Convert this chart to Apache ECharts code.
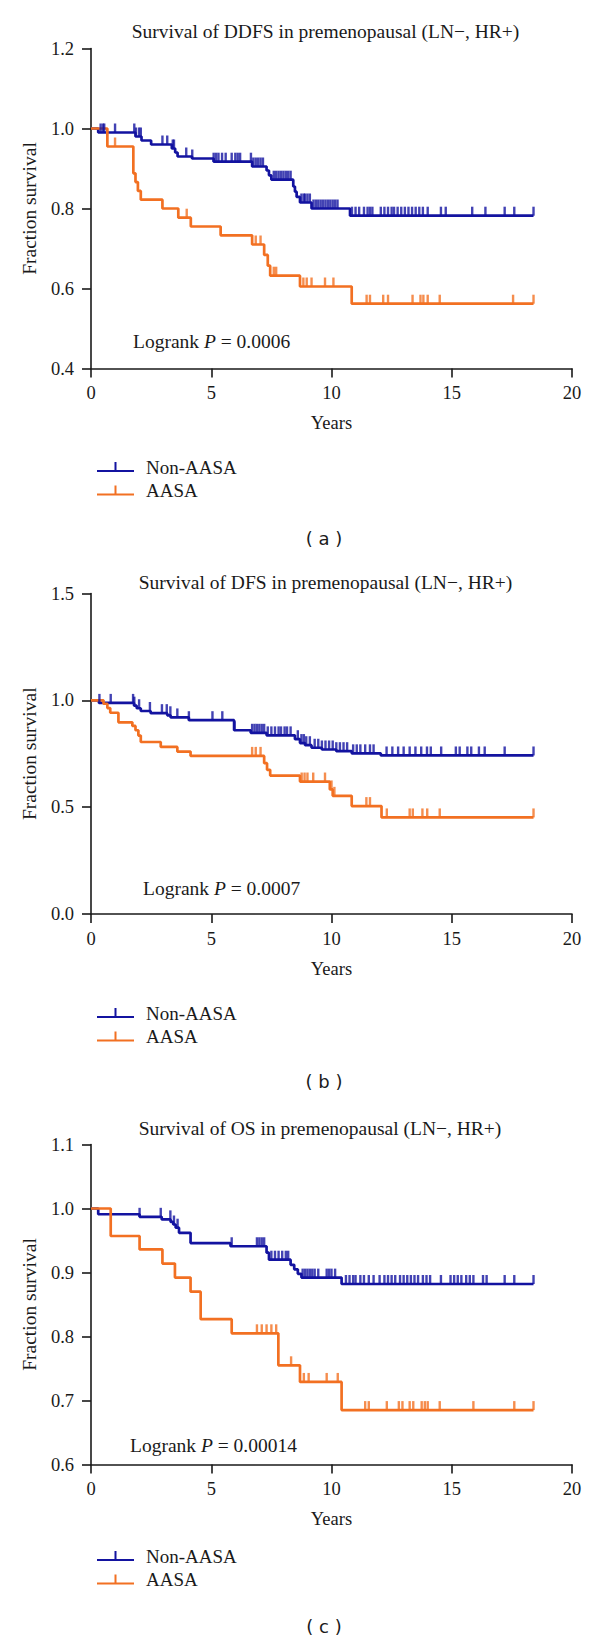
<!DOCTYPE html>
<html>
<head>
<meta charset="utf-8">
<script src="https://cdn.jsdelivr.net/npm/echarts@6/dist/echarts.min.js"></script>
<style>
html,body{margin:0;padding:0;background:#ffffff;}
#chart{width:600px;height:1641px;}
</style>
</head>
<body>
<div id="chart"></div>
<script>
// ---------------- DATA ----------------
const seriesNames = ['Non-AASA', 'AASA'];
const panelTitles = [
  'Survival of DDFS in premenopausal (LN\u2212, HR+)',
  'Survival of DFS in premenopausal (LN\u2212, HR+)',
  'Survival of OS in premenopausal (LN\u2212, HR+)'
];
const panelLetters = ['( a )', '( b )', '( c )'];
const logrankP = ['0.0006', '0.0007', '0.00014'];
const xRange = [0, 20, 5];            // min, max, interval (years)
const yRanges = [[0.4, 1.2, 0.2], [0.0, 1.5, 0.5], [0.6, 1.1, 0.1]];

// Panel (a) DDFS
const ddfsNonT = [0, 0.3, 1.85, 2.1, 2.5, 3.36, 3.5, 3.6, 4.2, 5.1, 6.7, 7.3, 7.4, 7.5, 8.41, 8.48, 8.55, 8.69, 9.17, 10.77, 18.4];
const ddfsNonS = [1, 0.99, 0.98, 0.97, 0.96, 0.95, 0.94, 0.93, 0.925, 0.917, 0.905, 0.895, 0.883, 0.872, 0.855, 0.842, 0.829, 0.815, 0.8, 0.782, 0.782];
const ddfsNonCens = [0.4, 0.5, 0.55, 1.0, 1.8, 1.87, 2.0, 2.07, 2.97, 3.17, 3.4, 3.45, 3.96, 4.21, 5.1, 5.2, 5.3, 5.45, 5.6, 5.85, 6.0, 6.1, 6.2, 6.65, 6.75, 6.85, 6.95, 7.05, 7.15, 7.6, 7.7, 7.8, 7.9, 8.0, 8.1, 8.2, 8.3, 8.75, 8.85, 8.9, 9.0, 9.1, 9.25, 9.35, 9.45, 9.55, 9.65, 9.75, 9.85, 9.95, 10.05, 10.15, 10.25, 10.85, 11.0, 11.15, 11.35, 11.5, 11.6, 11.7, 12.05, 12.2, 12.35, 12.5, 12.6, 12.75, 12.9, 13.05, 13.2, 13.35, 13.5, 13.65, 13.8, 14.0, 14.55, 14.75, 15.85, 16.4, 17.2, 17.6, 18.4];
const ddfsAasaT = [0, 0.68, 1.76, 1.85, 1.95, 2.07, 2.97, 3.63, 4.15, 5.39, 6.7, 7.2, 7.35, 7.45, 8.69, 10.84, 18.4];
const ddfsAasaS = [1, 0.955, 0.888, 0.866, 0.844, 0.822, 0.8, 0.777, 0.755, 0.733, 0.71, 0.684, 0.657, 0.632, 0.605, 0.562, 0.562];
const ddfsAasaCens = [1.0, 3.98, 6.85, 7.05, 7.6, 7.7, 8.83, 8.97, 9.17, 9.73, 10.08, 11.46, 11.6, 12.15, 12.35, 13.37, 13.7, 13.82, 14.0, 14.5, 17.55, 18.4];

// Panel (b) DFS
const dfsNonT = [0, 0.33, 1.79, 1.9, 2.07, 2.48, 3.17, 3.31, 4.07, 5.95, 6.64, 7.3, 8.48, 8.69, 8.9, 9.17, 9.6, 10.2, 10.84, 12.05, 18.4];
const dfsNonS = [1, 0.988, 0.975, 0.963, 0.95, 0.94, 0.93, 0.92, 0.907, 0.86, 0.848, 0.836, 0.818, 0.8, 0.79, 0.778, 0.77, 0.762, 0.752, 0.742, 0.742];
const dfsNonCens = [0.35, 0.82, 1.75, 1.8, 2.0, 2.45, 2.95, 3.15, 3.3, 3.59, 4.07, 5.05, 5.46, 5.97, 6.7, 6.8, 6.9, 7.0, 7.1, 7.2, 7.35, 7.5, 7.65, 7.8, 7.9, 8.05, 8.15, 8.3, 8.6, 8.75, 8.85, 8.95, 9.1, 9.3, 9.45, 9.6, 9.75, 9.9, 10.05, 10.2, 10.35, 10.5, 10.65, 10.9, 11.05, 11.2, 11.4, 11.6, 11.75, 12.29, 12.53, 12.77, 13.0, 13.25, 13.49, 13.73, 13.97, 14.13, 14.56, 15.17, 15.33, 15.65, 15.81, 16.13, 16.37, 17.2, 18.4];
const dfsAasaT = [0, 0.52, 0.68, 0.8, 1.14, 1.72, 1.85, 1.97, 2.07, 2.9, 3.59, 4.14, 7.2, 7.32, 7.45, 8.69, 9.93, 10.05, 10.84, 12.08, 18.4];
const dfsAasaS = [1, 0.984, 0.964, 0.942, 0.897, 0.88, 0.86, 0.835, 0.805, 0.782, 0.76, 0.74, 0.706, 0.675, 0.648, 0.62, 0.583, 0.553, 0.505, 0.452, 0.452];
const dfsAasaCens = [6.7, 6.85, 7.05, 8.76, 8.88, 9.0, 9.24, 9.73, 10.0, 10.12, 11.45, 11.6, 12.3, 13.25, 13.38, 13.78, 13.98, 14.5, 18.4];

// Panel (c) OS
const osNonT = [0, 0.3, 2.02, 2.94, 3.31, 3.42, 3.52, 3.66, 4.14, 5.8, 7.3, 7.4, 8.3, 8.45, 8.6, 8.75, 10.42, 18.4];
const osNonS = [1, 0.991, 0.987, 0.983, 0.979, 0.975, 0.97, 0.962, 0.946, 0.941, 0.931, 0.92, 0.912, 0.905, 0.898, 0.892, 0.882, 0.882];
const osNonCens = [2.02, 2.9, 3.3, 3.45, 3.6, 5.85, 6.9, 7.0, 7.1, 7.2, 7.5, 7.65, 7.8, 7.95, 8.1, 8.2, 8.8, 8.9, 9.0, 9.1, 9.2, 9.3, 9.45, 9.8, 9.9, 10.0, 10.15, 10.6, 10.75, 10.9, 11.0, 11.2, 11.35, 11.55, 11.75, 12.0, 12.2, 12.35, 12.5, 12.65, 12.85, 13.0, 13.15, 13.3, 13.45, 13.6, 13.8, 13.95, 14.1, 14.55, 14.95, 15.1, 15.25, 15.4, 15.6, 15.75, 15.9, 16.3, 16.45, 17.2, 17.6, 18.4];
const osAasaT = [0, 0.82, 2.02, 2.97, 3.49, 4.14, 4.56, 5.85, 7.79, 8.69, 10.42, 18.4];
const osAasaS = [1, 0.957, 0.936, 0.914, 0.892, 0.87, 0.827, 0.805, 0.755, 0.729, 0.685, 0.685];
const osAasaCens = [6.9, 7.1, 7.3, 7.5, 7.7, 8.32, 8.85, 9.05, 9.8, 10.26, 11.4, 11.55, 12.3, 12.8, 12.95, 13.25, 13.4, 13.75, 13.88, 14.0, 14.5, 15.9, 17.6, 18.4];

// ---------------- STYLE / LAYOUT ----------------
const SERIF = '"Liberation Serif", "Times New Roman", serif';
const SANS = '"DejaVu Sans", sans-serif';
const INK = '#1a1a1a';
const COLORS = ['#1313a0', '#f27022'];
const gridTops = [48.5, 593.5, 1144.5];
const gridHeights = [320, 320.5, 320];
const GRID_LEFT = 91, GRID_W = 481;
const titleY = [31.7, 582.7, 1128];
const titleX = [325.5, 325.5, 320];
const logrankPos = [[133, 341.7], [143, 888], [130, 1445]];
const legendTops = [452, 998, 1541];
const letterY = [538, 1081.7, 1626];

const panels = [
  {non: [ddfsNonT, ddfsNonS, ddfsNonCens], aasa: [ddfsAasaT, ddfsAasaS, ddfsAasaCens]},
  {non: [dfsNonT, dfsNonS, dfsNonCens], aasa: [dfsAasaT, dfsAasaS, dfsAasaCens]},
  {non: [osNonT, osNonS, osNonCens], aasa: [osAasaT, osAasaS, osAasaCens]}
];

function survAt(times, surv, t) {
  let s = surv[0];
  for (let i = 0; i < times.length; i++) if (times[i] <= t + 1e-9) s = surv[i];
  return s;
}

const grids = [], xAxes = [], yAxes = [], series = [], legends = [], graphics = [];
panels.forEach((p, k) => {
  grids.push({left: GRID_LEFT, width: GRID_W, top: gridTops[k], height: gridHeights[k], containLabel: false});
  const axisLine = {show: true, lineStyle: {color: INK, width: 1.6}};
  xAxes.push({
    type: 'value', gridIndex: k, min: xRange[0], max: xRange[1], interval: xRange[2],
    axisLine: axisLine, axisTick: {show: true, length: 9, lineStyle: {color: INK, width: 1.6}},
    splitLine: {show: false},
    axisLabel: {fontFamily: SERIF, fontSize: 18.5, color: INK, margin: 15},
    name: 'Years', nameLocation: 'middle', nameGap: 45,
    nameTextStyle: {fontFamily: SERIF, fontSize: 18.5, color: INK}
  });
  yAxes.push({
    type: 'value', gridIndex: k, min: yRanges[k][0], max: yRanges[k][1], interval: yRanges[k][2],
    axisLine: axisLine, axisTick: {show: true, length: 9, lineStyle: {color: INK, width: 1.6}},
    splitLine: {show: false},
    axisLabel: {fontFamily: SERIF, fontSize: 18.5, color: INK, margin: 17,
      formatter: v => v.toFixed(1)},
    name: 'Fraction survival', nameLocation: 'middle', nameGap: 49, nameRotate: 90,
    nameTextStyle: {fontFamily: SERIF, fontSize: 19.5, color: INK}
  });
  [p.non, p.aasa].forEach((grp, g) => {
    const [T, S, C] = grp;
    series.push({
      type: 'line', name: seriesNames[g], xAxisIndex: k, yAxisIndex: k,
      step: 'end', symbol: 'none', silent: true, animation: false,
      data: T.map((t, i) => [t, S[i]]),
      lineStyle: {color: COLORS[g], width: 2.7},
      itemStyle: {color: COLORS[g]}, z: 3
    });
    series.push({
      type: 'scatter', name: seriesNames[g], xAxisIndex: k, yAxisIndex: k,
      symbol: 'rect', symbolSize: [2.4, 9], symbolOffset: [0, -4.5],
      silent: true, animation: false,
      data: C.map(t => [t, survAt(T, S, t)]),
      itemStyle: {color: COLORS[g]}, z: 4
    });
  });
  legends.push({
    orient: 'vertical', left: 92, top: legendTops[k], selectedMode: false,
    data: seriesNames.map(n => ({name: n})),
    icon: 'path://M0,8L37,8L37,10L0,10Z M17.5,0L19.5,0L19.5,8L17.5,8Z',
    itemWidth: 37, itemHeight: 10, itemGap: 3.5,
    itemStyle: {borderWidth: 0},
    textStyle: {fontFamily: SERIF, fontSize: 19, color: INK, lineHeight: 20, padding: [0, 0, 0, 7]}
  });
  graphics.push({
    type: 'text', x: titleX[k], y: titleY[k], silent: true,
    style: {text: panelTitles[k], font: '19.5px "Liberation Serif", serif', fontFamily: SERIF, fontSize: 19.5, fill: INK,
      align: 'center', verticalAlign: 'middle', textAlign: 'center', textVerticalAlign: 'middle'}
  });
  graphics.push({
    type: 'text', x: logrankPos[k][0], y: logrankPos[k][1], silent: true,
    style: {text: '{n|Logrank }{i|P}{n| = ' + logrankP[k] + '}',
      font: '19.5px "Liberation Serif", serif', fontFamily: SERIF, fontSize: 19.5, fill: INK,
      align: 'left', verticalAlign: 'middle', textAlign: 'left', textVerticalAlign: 'middle',
      rich: {
        n: {font: '19.5px "Liberation Serif", serif', fontFamily: SERIF, fontSize: 19.5, fill: INK},
        i: {font: 'italic 19.5px "Liberation Serif", serif', fontFamily: SERIF, fontSize: 19.5, fontStyle: 'italic', fill: INK}
      }}
  });
  graphics.push({
    type: 'text', x: 324, y: letterY[k], silent: true,
    style: {text: panelLetters[k], font: '18px "DejaVu Sans", sans-serif', fontFamily: SANS, fontSize: 18, fill: INK,
      align: 'center', verticalAlign: 'middle', textAlign: 'center', textVerticalAlign: 'middle'}
  });
});

const chart = echarts.init(document.getElementById('chart'), null, {renderer: 'svg', width: 600, height: 1641});
chart.setOption({
  backgroundColor: '#ffffff',
  animation: false,
  grid: grids, xAxis: xAxes, yAxis: yAxes,
  legend: legends,
  series: series,
  graphic: graphics
});
</script>
</body>
</html>
